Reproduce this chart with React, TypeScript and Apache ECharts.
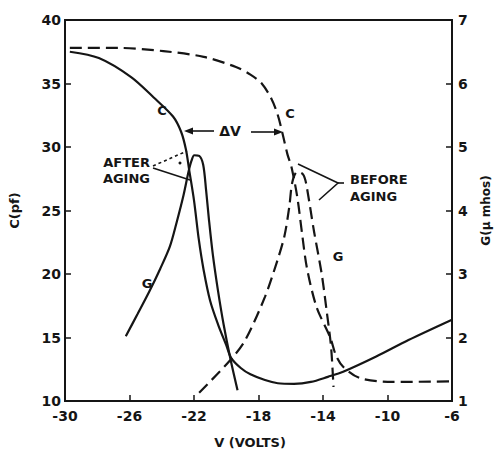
import React, { useEffect, useRef } from "react";
import * as echarts from "echarts";

// Tick values
const xTicks = [-30, -26, -22, -18, -14, -10, -6];
const cTicks = [10, 15, 20, 25, 30, 35, 40];
const gTicks = [1, 2, 3, 4, 5, 6, 7];

// C after aging (solid): [V, C pF]
const cAfter: [number, number][] = [
  [-29.7, 37.5], [-27.9, 37.0], [-25.9, 35.5], [-24.5, 33.9], [-23.3, 32.4],
  [-22.8, 31.2], [-22.5, 29.8], [-22.3, 28.2], [-22.0, 25.8], [-21.7, 22.7],
  [-21.4, 20.3], [-21.0, 17.9], [-20.5, 16.0], [-20.0, 14.4], [-19.7, 13.4],
  [-19.1, 12.6], [-18.5, 12.1], [-17.6, 11.65], [-16.8, 11.4], [-15.8, 11.35],
  [-14.75, 11.5], [-13.7, 11.9], [-12.75, 12.3], [-10.7, 13.5], [-8.7, 14.8],
  [-6.0, 16.4],
];

// G after aging (solid): [V, G µmhos]
const gAfter: [number, number][] = [
  [-26.23, 2.02], [-25.5, 2.37], [-24.78, 2.72], [-24.1, 3.08], [-23.5, 3.43],
  [-23.07, 3.82], [-22.65, 4.24], [-22.34, 4.61], [-22.16, 4.78], [-21.98, 4.87],
  [-21.68, 4.86], [-21.43, 4.72], [-21.25, 4.32], [-21.07, 3.85], [-20.83, 3.3],
  [-20.52, 2.75], [-20.16, 2.2], [-19.73, 1.65], [-19.3, 1.17],
];

// C before aging (dashed)
const cBefore: [number, number][] = [
  [-29.7, 37.8], [-26.7, 37.8], [-23.9, 37.55], [-21.4, 37.1], [-19.4, 36.3],
  [-18.5, 35.7], [-17.8, 35.0], [-17.2, 33.8], [-16.8, 32.5], [-16.5, 31.0],
  [-16.2, 29.4], [-15.97, 28.5], [-15.6, 26.1], [-15.3, 23.2], [-15.0, 20.5],
  [-14.4, 17.4], [-13.55, 15.0], [-13.2, 13.6], [-12.75, 12.7], [-11.7, 11.8],
  [-9.7, 11.5], [-6.0, 11.55],
];

// G before aging (dashed)
const gBefore: [number, number][] = [
  [-21.68, 1.13], [-19.73, 1.65], [-18.82, 1.96], [-17.6, 2.64], [-16.82, 3.22],
  [-16.39, 3.6], [-16.09, 4.06], [-15.9, 4.45], [-15.6, 4.61], [-15.24, 4.57],
  [-15.05, 4.43], [-14.57, 3.69], [-14.08, 3.0], [-13.78, 2.43], [-13.5, 1.85],
  [-13.35, 1.22],
];

const FONT = "DejaVu Sans";
const INK = "#151515";

export default function App() {
  const ref = useRef<HTMLDivElement>(null);
  useEffect(() => {
    if (!ref.current) return;
    const chart = echarts.init(ref.current, undefined, { renderer: "svg" });
    const txt = (x: number, y: number, text: string, align = "left", size = 14, rotation = 0) => ({
      type: "text",
      x,
      y,
      rotation,
      style: {
        text,
        fill: INK,
        font: `bold ${size}px "${FONT}"`,
        textAlign: align,
        textVerticalAlign: "middle",
      },
    });
    const ln = (x1: number, y1: number, x2: number, y2: number, dash?: number[]) => ({
      type: "line",
      shape: { x1, y1, x2, y2 },
      style: { stroke: INK, lineWidth: 1.6, lineDash: dash },
    });
    const solid = { color: INK, width: 2.2, type: "solid" as const };
    const dashed = { color: INK, width: 2.2, type: [12, 6] as number[] };
    const common = { type: "line", symbol: "none", smooth: 0.3 };
    chart.setOption({
      animation: false,
      textStyle: { fontFamily: FONT },
      grid: { left: 65, right: 39, top: 20, bottom: 52, show: true, borderColor: INK, borderWidth: 1.8 },
      xAxis: {
        type: "value",
        min: -30,
        max: -6,
        axisLine: { lineStyle: { color: INK, width: 2 } },
        axisTick: { inside: true, length: 6, customValues: xTicks, lineStyle: { color: INK, width: 1.5 } },
        axisLabel: { customValues: xTicks, color: INK, fontSize: 14, fontWeight: "bold", margin: 8 },
        splitLine: { show: false },
      },
      yAxis: [
        {
          type: "value",
          min: 10,
          max: 40,
          interval: 5,
          name: "C(pf)",
          nameLocation: "middle",
          nameRotate: 90,
          nameGap: 44,
          nameTextStyle: { color: INK, fontSize: 13, fontWeight: "bold" },
          axisLine: { show: true, lineStyle: { color: INK, width: 2 } },
          axisTick: { show: true, inside: true, length: 6, lineStyle: { color: INK, width: 1.5 } },
          axisLabel: { color: INK, fontSize: 14, fontWeight: "bold", margin: 4, customValues: cTicks },
          splitLine: { show: false },
        },
        {
          type: "value",
          min: 1,
          max: 7,
          interval: 1,
          position: "right",
          name: "G(\u03bc mhos)",
          nameLocation: "middle",
          nameRotate: 90,
          nameGap: 28,
          nameTextStyle: { color: INK, fontSize: 12, fontWeight: "bold" },
          axisLine: { show: true, lineStyle: { color: INK, width: 2 } },
          axisTick: { show: true, inside: true, length: 6, lineStyle: { color: INK, width: 1.5 } },
          axisLabel: { color: INK, fontSize: 14, fontWeight: "bold", margin: 6, customValues: gTicks },
          splitLine: { show: false },
        },
      ],
      series: [
        { ...common, name: "C after aging", yAxisIndex: 0, data: cAfter, lineStyle: solid },
        { ...common, name: "G after aging", yAxisIndex: 1, data: gAfter, lineStyle: solid },
        { ...common, name: "C before aging", yAxisIndex: 0, data: cBefore, lineStyle: dashed },
        { ...common, name: "G before aging", yAxisIndex: 1, data: gBefore, lineStyle: dashed },
      ],
      graphic: [
        txt(250, 442, "V (VOLTS)", "center", 13),
        txt(162, 110, "C", "center", 13),
        txt(290, 113, "C", "center", 13),
        txt(147, 283, "G", "center", 13),
        txt(338, 256, "G", "center", 13),
        txt(230, 131, "\u0394V", "center", 14),
        txt(150, 162, "AFTER", "right", 13),
        txt(150, 178, "AGING", "right", 13),
        txt(350, 179, "BEFORE", "left", 13),
        txt(350, 196, "AGING", "left", 13),
        // ΔV arrows
        ln(188, 131, 214, 131),
        { type: "polygon", shape: { points: [[184, 131], [193, 127.5], [193, 134.5]] }, style: { fill: INK } },
        ln(251, 132, 276, 132),
        { type: "polygon", shape: { points: [[283, 132], [274, 128.5], [274, 135.5]] }, style: { fill: INK } },
        // after aging bracket
        ln(153, 166, 187, 151, [3, 3]),
        ln(153, 168, 190, 180),
        { type: "circle", shape: { cx: 180, cy: 163, r: 1.5 }, style: { fill: INK } },
        // before aging bracket
        {
          type: "polyline",
          shape: { points: [[298, 164], [338, 183], [319, 200]] },
          style: { stroke: INK, lineWidth: 1.6, fill: "none" },
        },
        ln(338, 183, 344, 183),
      ],
    });
    return () => chart.dispose();
  }, []);
  return <div ref={ref} style={{ position: "absolute", left: 0, top: 0, width: 500, height: 453 }} />;
}
